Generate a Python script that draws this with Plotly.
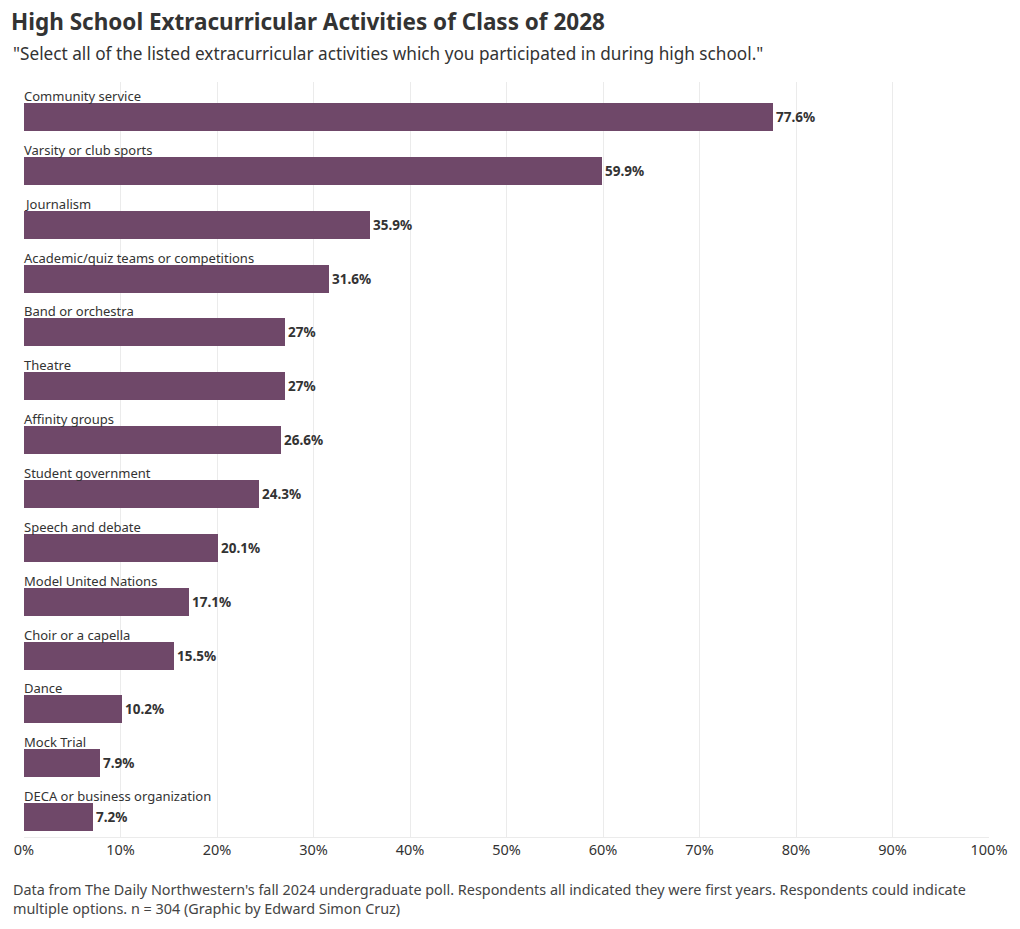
import plotly.graph_objects as go

categories = ["Community service", "Varsity or club sports", "Journalism",
              "Academic/quiz teams or competitions", "Band or orchestra", "Theatre",
              "Affinity groups", "Student government", "Speech and debate",
              "Model United Nations", "Choir or a capella", "Dance", "Mock Trial",
              "DECA or business organization"]
values = [77.6, 59.9, 35.9, 31.6, 27, 27, 26.6, 24.3, 20.1, 17.1, 15.5, 10.2, 7.9, 7.2]
value_labels = ["77.6%", "59.9%", "35.9%", "31.6%", "27%", "27%", "26.6%", "24.3%",
                "20.1%", "17.1%", "15.5%", "10.2%", "7.9%", "7.2%"]
tick_vals = [0, 10, 20, 30, 40, 50, 60, 70, 80, 90, 100]
tick_text = ["0%", "10%", "20%", "30%", "40%", "50%", "60%", "70%", "80%", "90%", "100%"]

title = "High School Extracurricular Activities of Class of 2028"
subtitle = "\"Select all of the listed extracurricular activities which you participated in during high school.\""
footer = ("Data from The Daily Northwestern's fall 2024 undergraduate poll. Respondents all indicated they were first years. Respondents could indicate<br>"
          "multiple options. n = 304 (Graphic by Edward Simon Cruz)")

FONT = "Noto Sans"
ypos = list(range(len(categories)))

fig = go.Figure()
fig.add_trace(go.Bar(
    x=values, y=ypos, orientation="h", width=0.52,
    marker=dict(color="#6f4869", line=dict(width=0)),
    text=value_labels, textposition="outside", cliponaxis=False,
    textfont=dict(family=FONT, size=13.5, color="#333333", weight="bold"),
    hoverinfo="skip",
))

fig.update_layout(
    width=1020, height=929,
    margin=dict(l=24, r=31, t=82, b=92),
    paper_bgcolor="white", plot_bgcolor="white",
    showlegend=False,
    bargap=0,
    title=dict(text="<b>" + title + "</b>", x=11/1020, xanchor="left", xref="container",
               y=1 - 22/929, yanchor="middle", yref="container",
               font=dict(family=FONT, size=22.5, color="#333333")),
    xaxis=dict(range=[0, 100], tickvals=tick_vals, ticktext=tick_text,
               showgrid=True, gridcolor="#ebebeb", gridwidth=1, zeroline=False,
               showline=True, linecolor="#ebebeb", linewidth=1,
               tickfont=dict(family=FONT, size=14.5, color="#333333"), ticks="",
               fixedrange=True),
    yaxis=dict(range=[13.37, -0.65], showticklabels=False, showgrid=False,
               zeroline=False, showline=False, fixedrange=True),
)
for i, c in enumerate(categories):
    fig.add_annotation(x=0, y=i - 0.39, xref="x", yref="y", text=c, showarrow=False,
                       xanchor="left", yanchor="middle", xshift=-2,
                       font=dict(family=FONT, size=13, color="#333333"))
fig.add_annotation(x=(11 - 24) / 965, y=1 + (82 - 53) / 755, xref="paper", yref="paper",
                   text=subtitle, showarrow=False, xanchor="left", yanchor="middle",
                   font=dict(family=FONT, size=17.2, color="#333333"))
fig.add_annotation(x=(11 - 24) / 965, y=-(899 - 837) / 755, xref="paper", yref="paper",
                   text=footer, showarrow=False, xanchor="left", yanchor="middle", align="left",
                   font=dict(family=FONT, size=14.4, color="#444444"))

fig.write_html("out.html")
